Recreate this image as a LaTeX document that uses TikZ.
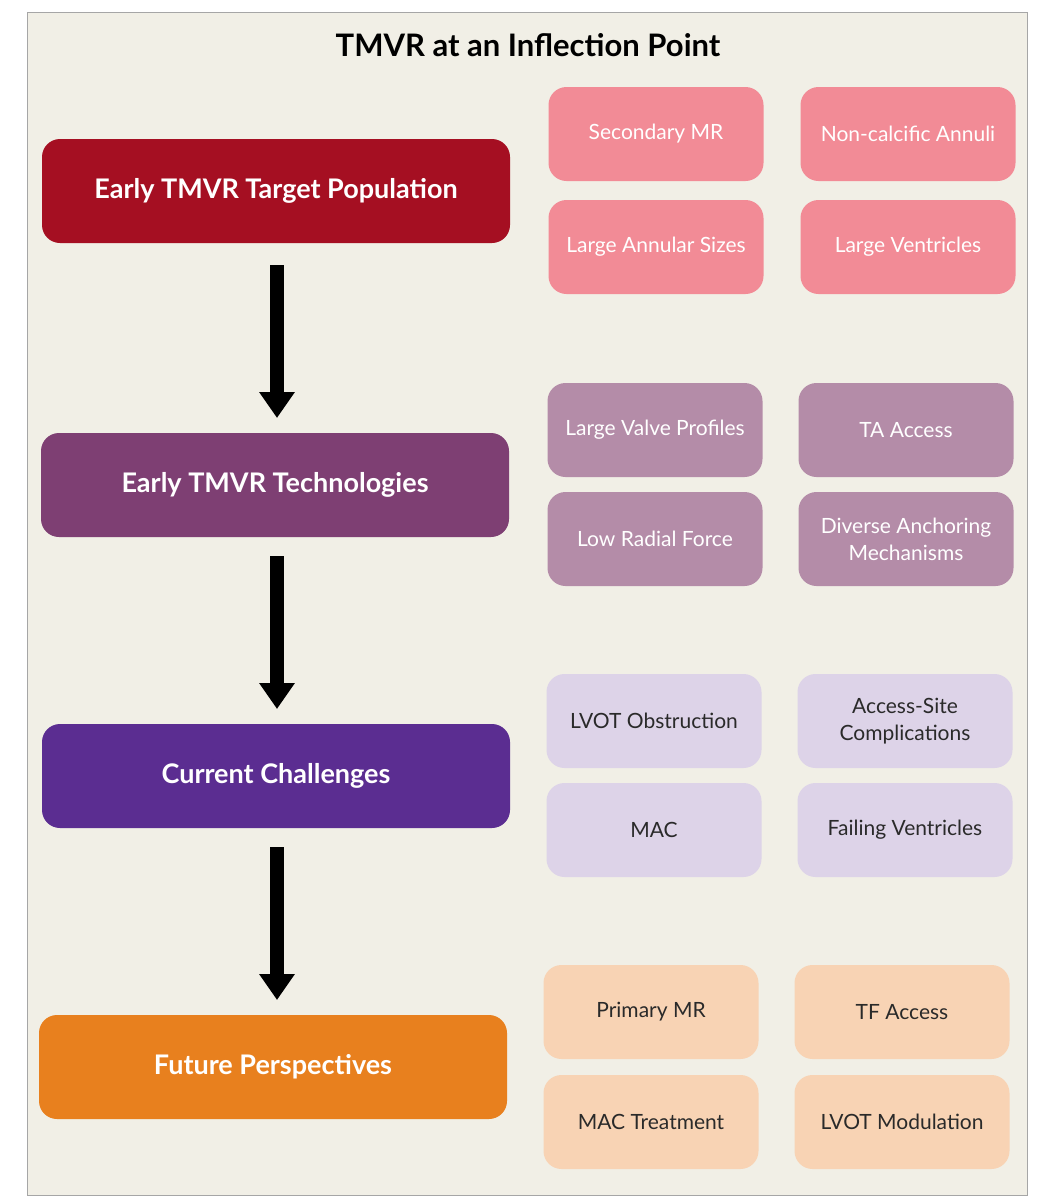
\documentclass[tikz,border=0pt]{standalone}
\usepackage{fontspec}
\setmainfont{Lato}
\usetikzlibrary{arrows.meta}
\begin{document}
\begin{tikzpicture}[x=1pt,y=-1pt,
 big/.style={rounded corners=18pt,minimum width=468pt,minimum height=104pt,text=white,font=\bfseries\fontsize{27}{30}\selectfont,inner sep=0pt},
 sm/.style={rounded corners=18pt,minimum width=215pt,minimum height=94pt,align=center,font=\fontsize{21}{27}\selectfont,inner sep=0pt},
 arr/.style={line width=14pt,-{Triangle[width=34pt,length=26pt]}}]
\definecolor{bg}{HTML}{F1EFE6}
\definecolor{c1}{HTML}{A50F22}\definecolor{c2}{HTML}{7E3F73}
\definecolor{c3}{HTML}{5B2D91}\definecolor{c4}{HTML}{E8801E}
\definecolor{p1}{HTML}{F28B96}\definecolor{p2}{HTML}{B48CA8}
\definecolor{p3}{HTML}{DDD3E8}\definecolor{p4}{HTML}{F8D3B4}
\definecolor{dk}{HTML}{2A2A2A}
\useasboundingbox (0,0) rectangle (1056,1200);
\fill[white] (0,0) rectangle (1056,1200);
\draw[fill=bg,line width=1pt,draw=gray!70] (27,12) rectangle (1027,1195);
\node[font=\bfseries\fontsize{31}{34}\selectfont] (t) at (528,45) {TMVR at an Inflection Point};
\node[big,fill=c1] (a) at (276,191) {Early TMVR Target Population};
\node[big,fill=c2] (b) at (275,485) {Early TMVR Technologies};
\node[big,fill=c3] (c) at (276,776) {Current Challenges};
\node[big,fill=c4] (d) at (273,1067) {Future Perspectives};
\coordinate (a1) at (277,265);\coordinate (a2) at (277,418);
\coordinate (b1) at (277,556);\coordinate (b2) at (277,709);
\coordinate (c1x) at (277,847);\coordinate (c2x) at (277,1000);
\draw[arr] (a1)--(a2); \draw[arr] (b1)--(b2); \draw[arr] (c1x)--(c2x);
\node[sm,fill=p1,text=white] (s1) at (656,134) {Secondary MR};
\node[sm,fill=p1,text=white] (s2) at (908,134) {Non-calcific Annuli};
\node[sm,fill=p1,text=white] (s3) at (656,247) {Large Annular Sizes};
\node[sm,fill=p1,text=white] (s4) at (908,247) {Large Ventricles};
\node[sm,fill=p2,text=white] (t1) at (655,430) {Large Valve Profiles};
\node[sm,fill=p2,text=white] (t2) at (906,430) {TA Access};
\node[sm,fill=p2,text=white] (t3) at (655,539) {Low Radial Force};
\node[sm,fill=p2,text=white] (t4) at (906,539) {Diverse Anchoring\\Mechanisms};
\node[sm,fill=p3,text=dk] (u1) at (654,721) {LVOT Obstruction};
\node[sm,fill=p3,text=dk] (u2) at (905,721) {Access-Site\\Complications};
\node[sm,fill=p3,text=dk] (u3) at (654,830) {MAC};
\node[sm,fill=p3,text=dk] (u4) at (905,830) {Failing Ventricles};
\node[sm,fill=p4,text=dk] (v1) at (651,1012) {Primary MR};
\node[sm,fill=p4,text=dk] (v2) at (902,1012) {TF Access};
\node[sm,fill=p4,text=dk] (v3) at (651,1122) {MAC Treatment};
\node[sm,fill=p4,text=dk] (v4) at (902,1122) {LVOT Modulation};
\end{tikzpicture}
\end{document}
